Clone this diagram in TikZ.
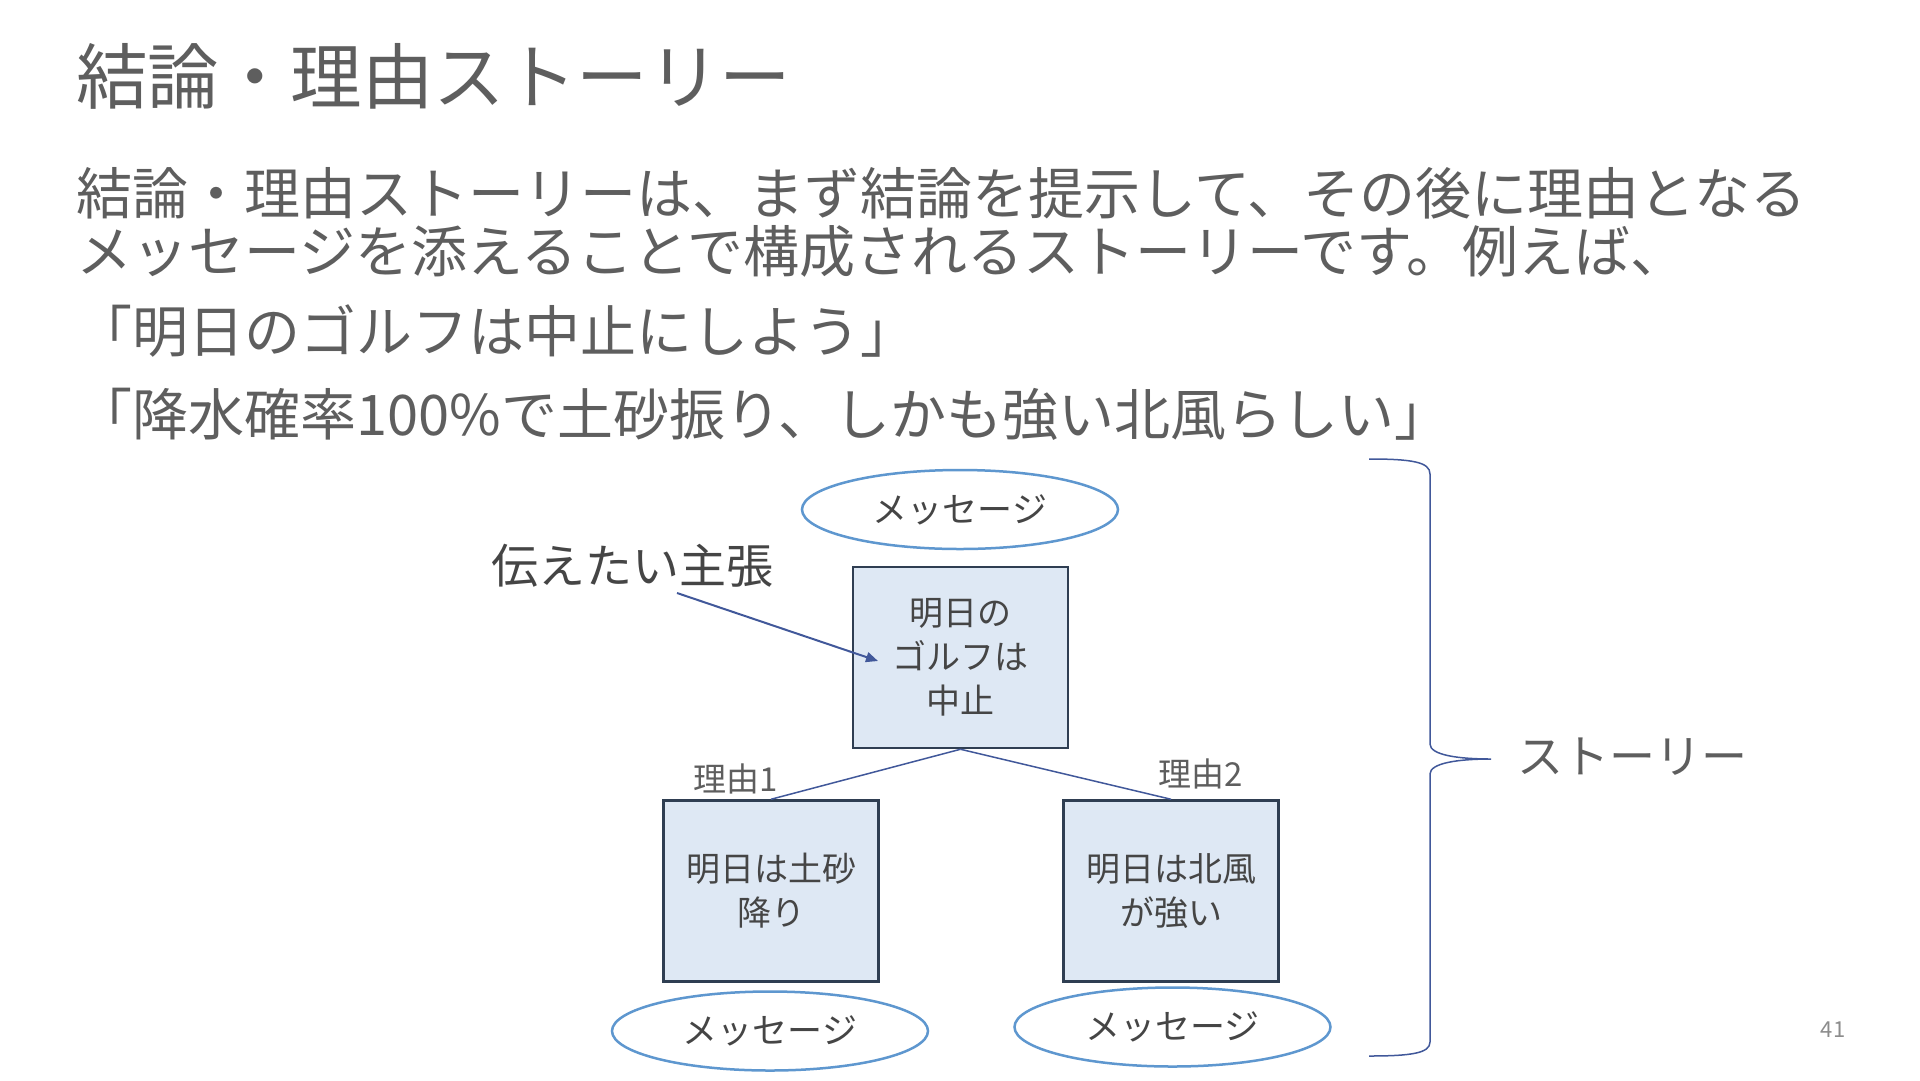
\documentclass[tikz,border=0pt]{standalone}
\usepackage{fontspec}
\setmainfont{Noto Sans CJK JP}
\usetikzlibrary{shapes.geometric,arrows.meta}
\definecolor{txtgray}{HTML}{5E5E5E}
\definecolor{boxtxt}{HTML}{454545}
\definecolor{boxfill}{HTML}{DEE8F4}
\definecolor{boxline}{HTML}{2F3E52}
\definecolor{ellline}{HTML}{5E97CF}
\definecolor{conline}{HTML}{41589A}
\definecolor{pagegray}{HTML}{8C8C8C}
\tikzset{
  bodytext/.style={anchor=west, inner sep=0pt, text=txtgray, font=\fontsize{56}{60}\selectfont},
  msgbox/.style={draw=boxline, line width=2.5pt, fill=boxfill, minimum width=215pt, minimum height=181pt, inner sep=0pt, align=center, text=boxtxt, font=\fontsize{34}{44}\selectfont},
  msgell/.style={draw=ellline, line width=2.5pt, ellipse, minimum width=316pt, minimum height=79pt, inner sep=0pt, text=boxtxt, font=\fontsize{35}{40}\selectfont},
  lbl/.style={inner sep=0pt, text=txtgray},
  conn/.style={draw=conline, line width=1.5pt}
}
\begin{document}
\begin{tikzpicture}[x=1pt, y=-1pt]
\useasboundingbox[fill=white] (0,0) rectangle (1920,1080);
% title and body
\node[bodytext, font=\fontsize{71.5}{76}\selectfont] (title) at (76,76) {結論・理由ストーリー};
\node[bodytext] (l1) at (76,193) {結論・理由ストーリーは、まず結論を提示して、その後に理由となる};
\node[bodytext] (l2) at (76,251) {メッセージを添えることで構成されるストーリーです。例えば、};
\node[bodytext] (l3) at (76,331) {「明日のゴルフは中止にしよう」};
\node[bodytext] (l4) at (76,414) {「降水確率100\%で土砂振り、しかも強い北風らしい」};
% diagram
\node[msgell] (etop) at (960,509.5) {メッセージ};
\node[msgbox] (top) at (960.5,657.5) {明日の\\ゴルフは\\中止};
\node[msgbox] (left) at (771,891) {明日は土砂\\降り};
\node[msgbox] (right) at (1171,891) {明日は北風\\が強い};
\node[msgell] (eleft) at (770,1031) {メッセージ};
\node[msgell] (eright) at (1172.5,1027) {メッセージ};
\draw[conn] (top.south) -- (left.north);
\draw[conn] (top.south) -- (right.north);
\node[lbl, font=\fontsize{33}{36}\selectfont] (r1) at (736,779) {理由1};
\node[lbl, font=\fontsize{33}{36}\selectfont] (r2) at (1201,774) {理由2};
\node[lbl, text=boxtxt, font=\fontsize{47}{50}\selectfont] (claim) at (632,566) {伝えたい主張};
\coordinate (as) at (677,593);
\coordinate (ae) at (878,661);
\draw[conn, line width=2pt, -{Triangle[length=12pt,width=10pt]}] (as) -- (ae);
% brace
\draw[conn] (1369,459) .. controls (1412,459) and (1430,462) .. (1430,474)
  -- (1430,744) .. controls (1430,755) and (1458,759) .. (1491,759)
  .. controls (1458,759) and (1430,763) .. (1430,774)
  -- (1430,1042) .. controls (1430,1053) and (1412,1056) .. (1369,1056);
\node[lbl, font=\fontsize{46}{50}\selectfont] (story) at (1632,757) {ストーリー};
\node[lbl, text=pagegray, font=\fontsize{22}{24}\selectfont] (page) at (1833,1030) {41};
\end{tikzpicture}
\end{document}
